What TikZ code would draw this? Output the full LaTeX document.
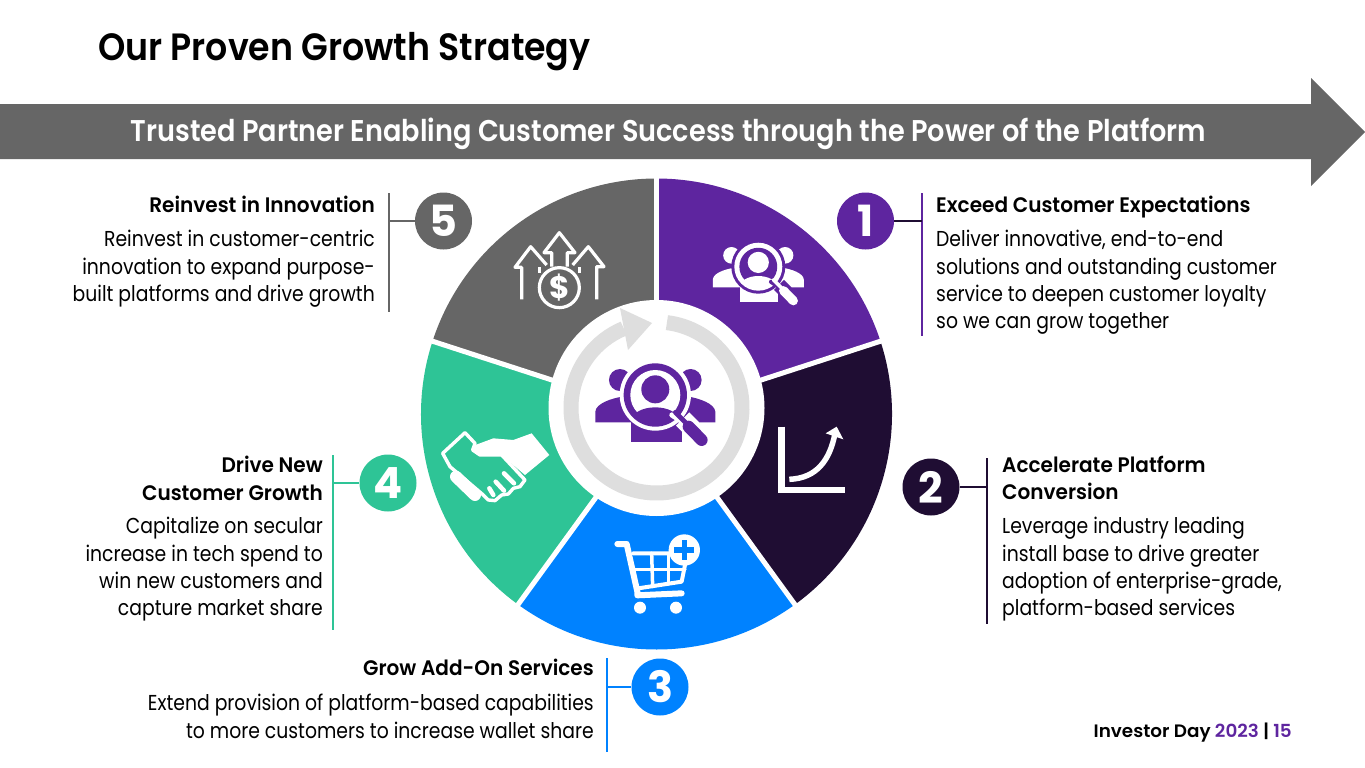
\documentclass[tikz,border=0pt]{standalone}
\usepackage{fontspec}
\setmainfont[FakeStretch=0.87,BoldFont={Poppins SemiBold}]{Poppins}
\newfontfamily\titlefont[FakeStretch=0.915]{Poppins SemiBold}
\newfontfamily\bannerfont[FakeStretch=0.905]{Poppins SemiBold}
\newfontfamily\headfont[FakeStretch=0.955]{Poppins SemiBold}
\newfontfamily\footfont[FakeStretch=1.02]{Poppins SemiBold}
\newfontfamily\digitfont[FakeStretch=1.0]{Poppins Bold}
\usetikzlibrary{positioning}
\definecolor{stratPurple}{HTML}{5E259F}
\definecolor{stratDark}{HTML}{1F0D33}
\definecolor{stratBlue}{HTML}{0082FF}
\definecolor{stratGreen}{HTML}{2EC496}
\definecolor{stratGrey}{HTML}{666666}
\definecolor{stratRing}{HTML}{DEDEDE}
\tikzset{
  badge/.style={circle,minimum size=57pt,inner sep=0,text=white,font=\fontsize{43}{43}\selectfont\digitfont},
  headtxt/.style={inner sep=0,font=\fontsize{21}{27.4}\selectfont\headfont},
  bodytxt/.style={inner sep=0,font=\fontsize{21.6}{27.4}\selectfont},
  barline/.style={line width=2.8pt},
  icon/.style={line join=round,line cap=round}
}
% people with a magnifier: x, y, unit, colour, background
\newcommand{\peopleicon}[5]{
\begin{scope}[shift={(#1,-#2)},x=#3pt,y=-#3pt,icon]
\foreach \m in {1,-1} {
  \fill[#4] (\m*106,-45) circle (33);
  \fill[#4] (\m*180,82) -- (\m*180,50) .. controls (\m*178,25) and (\m*130,10) .. (\m*100,5) -- (\m*70,82) -- cycle;
}
\fill[#4] (-73,60) -- (-73,140) -- (79,140) -- (79,60) -- cycle;
\fill[#5] (0,0) circle (107);
\fill[#4] (0,0) circle (95);
\fill[#5] (0,0) circle (75);
\fill[#4] (0,-17) circle (42);
\begin{scope}
\clip (0,0) circle (80);
\fill[#4] (0,75) ellipse (70 and 38);
\end{scope}
\draw[#5,line width=#3*56pt,line cap=butt] (82,72) -- (112,102);
\draw[#5,line width=#3*16pt] (50,60) -- (100,92);
\draw[#4,line width=#3*14pt] (60,52) -- (100,92);
\draw[#4,line width=#3*36pt] (100,95) -- (139,135);
\end{scope}
}

\begin{document}
\begin{tikzpicture}[x=1pt,y=1pt]
\useasboundingbox (0,0) rectangle (1365,-768);

\node[anchor=base west,inner sep=0,font=\fontsize{38}{38}\selectfont\titlefont] (title) at (98,-60) {Our Proven Growth Strategy};

\fill[stratGrey] (0,-104) -- (1311,-104) -- (1311,-78) -- (1365,-132) -- (1311,-186) -- (1311,-159) -- (0,-159) -- cycle;
\node[anchor=base,inner sep=0,text=white,font=\fontsize{30}{30}\selectfont\bannerfont] (banner) at (668.5,-141) {Trusted Partner Enabling Customer Success through the Power of the Platform};

% wheel
\begin{scope}[shift={(656.5,-414)}]
\foreach \a/\col in {90/stratPurple,18/stratDark,-54/stratBlue,-126/stratGreen,-198/stratGrey} {
  \fill[\col] (0,0) -- (\a:235.5) arc[start angle=\a,end angle=\a-72,radius=235.5] -- cycle;
}
\foreach \a in {90,18,-54,-126,-198} {
  \draw[white,line width=5pt] (0,0) -- (\a:240);
}
\fill[white] (0,6) circle (108);
\end{scope}

% ring arrow
\begin{scope}[shift={(656.5,-407.5)}]
\draw[stratRing,line width=15pt] (83:85.5) arc[start angle=83,end angle=-247.5,radius=85.5];
\end{scope}
\fill[stratRing] (620,-308) -- (652,-323) -- (628,-350) -- cycle;

\peopleicon{655.3}{395}{0.3333}{stratPurple}{white}
\peopleicon{758.3}{266.7}{0.2525}{white}{stratPurple}

% growth chart
\begin{scope}[shift={(760,-410)},x=0.3333pt,y=-0.3333pt]
\draw[white,line width=6.5pt] (65,50) -- (65,240) -- (255,240);
\draw[white,line width=5.5pt] (88,208) .. controls (170,205) and (210,150) .. (225,70);
\fill[white] (197,70) -- (230,50) -- (250,88) -- cycle;
\end{scope}

% dollar and arrows
\begin{scope}[shift={(500,-220)},x=0.3333pt,y=-0.3333pt,white,line width=3.2pt,line join=round]
\draw (65,238) -- (65,142) -- (45,142) -- (92,80) -- (140,135);
\draw (118,142) -- (118,160);
\draw (155,140) -- (155,98) -- (132,98) -- (178,38) -- (225,98) -- (202,98) -- (202,140);
\draw (290,238) -- (290,140) -- (312,140) -- (265,80) -- (218,135);
\draw (238,142) -- (238,160);
\draw (178,203) circle (60);
\node[inner sep=0,text=white,font=\fontsize{31}{31}\selectfont\digitfont] (dollar) at (178,203) {\$};
\end{scope}

% handshake
\begin{scope}[shift={(430,-420)},x=0.3333pt,y=-0.3333pt,line join=round,line cap=round]
\draw[white,fill=stratGreen,line width=3.4pt] (38,100) -- (105,38) -- (135,70) -- (128,90) -- (150,105) -- (215,105) -- (285,180) -- (270,200) -- (250,205) -- (235,222) -- (215,225) -- (195,242) -- (175,240) -- (160,225) -- (60,140) -- cycle;
\draw[white,line width=12pt] (78,170) -- (135,225);
\fill[white] (128,78) -- (190,55) -- (250,60) -- (305,40) -- (358,105) -- (285,165) -- (215,105) -- (165,108) -- (140,100) -- cycle;
\draw[white,line width=4.5pt] (178,205) -- (190,225);
\draw[white,line width=4.5pt] (197,185) -- (222,212);
\draw[white,line width=4.5pt] (222,160) -- (252,190);
\end{scope}

% cart
\begin{scope}[shift={(600,-520)},x=0.3333pt,y=-0.3333pt,line join=round,line cap=round]
\draw[white,line width=6pt] (52,72) -- (80,72) -- (112,215) -- (112,226) -- (245,220);
\draw[white,line width=4pt] (100,100) -- (262,100) -- (245,185) -- (115,205);
\draw[white,line width=3.5pt] (155,100) -- (158,200);
\draw[white,line width=3.5pt] (205,100) -- (205,192);
\draw[white,line width=3.5pt] (105,148) -- (255,148);
\fill[white] (120,263) circle (18);
\fill[white] (228,263) circle (18);
\fill[white] (253,90) circle (47);
\draw[stratBlue,line width=5.5pt,line cap=butt] (253,60) -- (253,120);
\draw[stratBlue,line width=5.5pt,line cap=butt] (223,90) -- (283,90);
\end{scope}

% badges with their bars
\node[badge,fill=stratPurple] (one) at (865.5,-221) {1};
\node[badge,fill=stratDark] (two) at (931,-487) {2};
\node[badge,fill=stratBlue] (three) at (660,-687) {3};
\node[badge,fill=stratGreen] (four) at (388,-483) {4};
\node[badge,fill=stratGrey] (five) at (443.5,-221) {5};

\coordinate (oneTop) at (922,-193);
\coordinate (oneEnd) at (922,-336);
\coordinate (twoTop) at (987,-458);
\coordinate (twoEnd) at (987,-624);
\coordinate (threeTop) at (607,-658);
\coordinate (threeEnd) at (607,-752);
\coordinate (fourTop) at (333,-455);
\coordinate (fourEnd) at (333,-630);
\coordinate (fiveTop) at (389,-193);
\coordinate (fiveEnd) at (389,-312);

\draw[barline,stratPurple] (oneTop) -- (oneEnd);
\draw[barline,stratDark] (one) -- (one-|oneTop);
\draw[barline,stratDark] (twoTop) -- (twoEnd);
\draw[barline,stratDark] (two) -- (two-|twoTop);
\draw[barline,stratBlue] (threeTop) -- (threeEnd);
\draw[barline,stratBlue] (three) -- (three-|threeTop);
\draw[barline,stratGreen] (fourTop) -- (fourEnd);
\draw[barline,stratGreen] (four) -- (four-|fourTop);
\draw[barline,stratGrey] (fiveTop) -- (fiveEnd);
\draw[barline,stratGrey] (five) -- (five-|fiveTop);

% texts
\node[headtxt,anchor=north west,align=left] (headOne) at (936,-196) {Exceed Customer Expectations};
\node[bodytxt,anchor=north west,align=left] (bodyOne) at (936,-230) {Deliver innovative, end-to-end\\solutions and outstanding customer\\service to deepen customer loyalty\\so we can grow together};
\node[headtxt,anchor=north west,align=left] (headTwo) at (1002,-456) {Accelerate Platform\\Conversion};
\node[bodytxt,anchor=north west,align=left] (bodyTwo) at (1002,-517) {Leverage industry leading\\install base to drive greater\\adoption of enterprise-grade,\\platform-based services};
\node[headtxt,anchor=north east,align=right] (headThree) at (594,-659) {Grow Add-On Services};
\node[bodytxt,anchor=north east,align=right] (bodyThree) at (594,-694) {Extend provision of platform-based capabilities\\to more customers to increase wallet share};
\node[headtxt,anchor=north east,align=right] (headFour) at (323,-456) {Drive New\\Customer Growth};
\node[bodytxt,anchor=north east,align=right] (bodyFour) at (323,-517) {Capitalize on secular\\increase in tech spend to\\win new customers and\\capture market share};
\node[headtxt,anchor=north east,align=right] (headFive) at (375,-196) {Reinvest in Innovation};
\node[bodytxt,anchor=north east,align=right] (bodyFive) at (375,-230) {Reinvest in customer-centric\\innovation to expand purpose-\\built platforms and drive growth};

\node[anchor=base east,inner sep=0,font=\fontsize{18}{18}\selectfont\footfont] (footer) at (1292,-737) {Investor Day \textcolor{stratPurple}{2023} | \textcolor{stratPurple}{15}};
\end{tikzpicture}
\end{document}
